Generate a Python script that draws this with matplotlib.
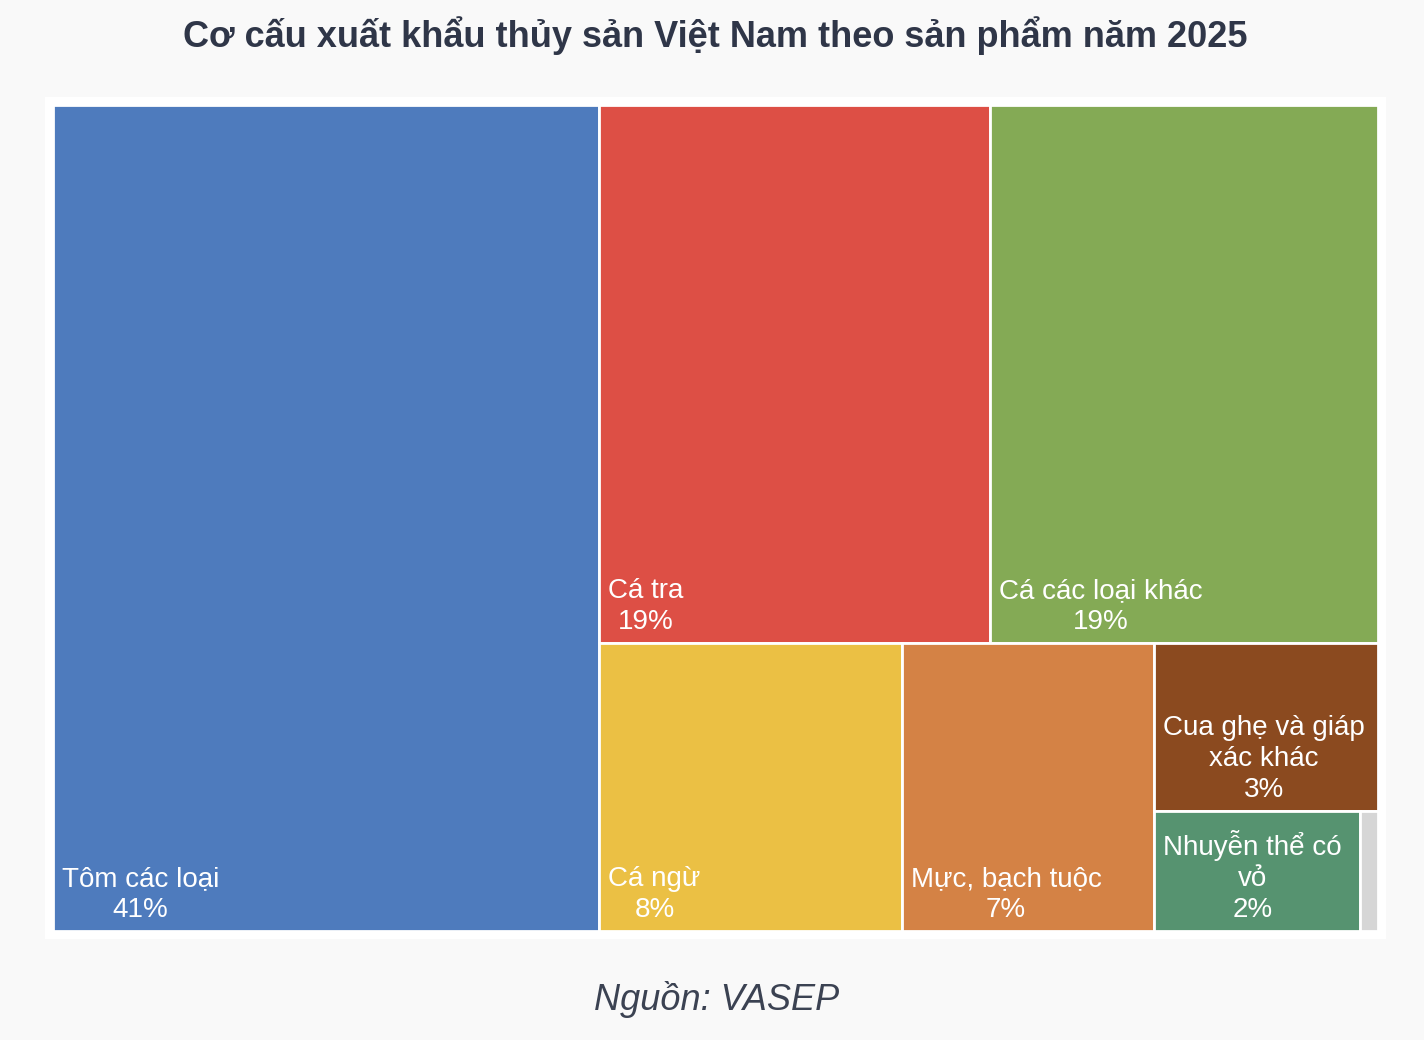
import matplotlib.pyplot as plt
from matplotlib.patches import Rectangle

# data (share of export value, %)
products = ["Tôm các loại", "Cá tra", "Cá các loại khác", "Cá ngừ",
            "Mực, bạch tuộc", "Cua ghẹ và giáp xác khác", "Nhuyễn thể có vỏ", "Khác"]
shares = [41.0, 19.1, 19.0, 7.9, 6.6, 3.4, 2.25, 0.2]
colors = ["#4e7bbd", "#dd4f45", "#84aa55", "#ebc044",
          "#d48245", "#8b4a1f", "#569370", "#d6d6d6"]

title = "Cơ cấu xuất khẩu thủy sản Việt Nam theo sản phẩm năm 2025"
source = "Nguồn: VASEP"

plt.rcParams['font.family'] = ['Liberation Sans', 'DejaVu Sans']


def worst(row, side):
    s = sum(row)
    return max(max(side * side * r / (s * s), s * s / (side * side * r)) for r in row)


def squarify(areas, x, y, w, h):
    rects = []
    areas = list(areas)
    while areas:
        side = min(w, h)
        row = [areas[0]]
        i = 1
        while i < len(areas) and worst(row + [areas[i]], side) <= worst(row, side):
            row.append(areas[i])
            i += 1
        areas = areas[i:]
        s = sum(row)
        if w >= h:
            cw = s / h
            cy = y
            for a in row:
                rects.append((x, cy, cw, a / cw))
                cy += a / cw
            x += cw
            w -= cw
        else:
            rh = s / w
            cx = x
            for a in row:
                rects.append((cx, y, a / rh, rh))
                cx += a / rh
            y += rh
            h -= rh
    return rects


fig = plt.figure(figsize=(14.24, 10.40), dpi=100, facecolor="#f9f9f9")
ax = fig.add_axes([0, 0, 1, 1])
ax.set_xlim(0, 1424)
ax.set_ylim(1040, 0)
ax.axis("off")

# white panel behind the treemap
ax.add_patch(Rectangle((45, 97), 1341, 842, facecolor="white", edgecolor="none"))

X0, Y0, W, H = 53, 105, 1325, 826
total = sum(shares)
areas = [v / total * W * H for v in shares]
rects = squarify(areas, X0, Y0, W, H)

renderer = fig.canvas.get_renderer()
fs = 20


def text_width(s):
    t = ax.text(0, 0, s, fontsize=fs)
    wd = t.get_window_extent(renderer).width
    t.remove()
    return wd


def wrap(label, maxw):
    lines = []
    cur = ""
    for word in label.split():
        cand = (cur + " " + word).strip()
        if cur and text_width(cand) > maxw:
            lines.append(cur)
            cur = word
        else:
            cur = cand
    lines.append(cur)
    return lines


for (x, y, w, h), name, v, c in zip(rects, products, shares, colors):
    ax.add_patch(Rectangle((x, y), w, h, facecolor=c, edgecolor="white", linewidth=2))
    if w < 60:
        continue
    lines = wrap(name, w - 18) + [f"{round(v / total * 100)}%"]
    ax.text(x + 9, y + h - 8, "\n".join(lines), fontsize=fs, color="white",
            ha="left", va="bottom", multialignment="center", linespacing=1.25)

fig.text(0.502, 1 - 36 / 1040, title, fontsize=26, fontweight="bold",
         color="#2f3648", ha="center", va="center")
fig.text(0.503, 1 - 1000 / 1040, source, fontsize=26, style="italic",
         color="#3b4252", ha="center", va="center")

fig.savefig("out.png", dpi=100, facecolor=fig.get_facecolor())
